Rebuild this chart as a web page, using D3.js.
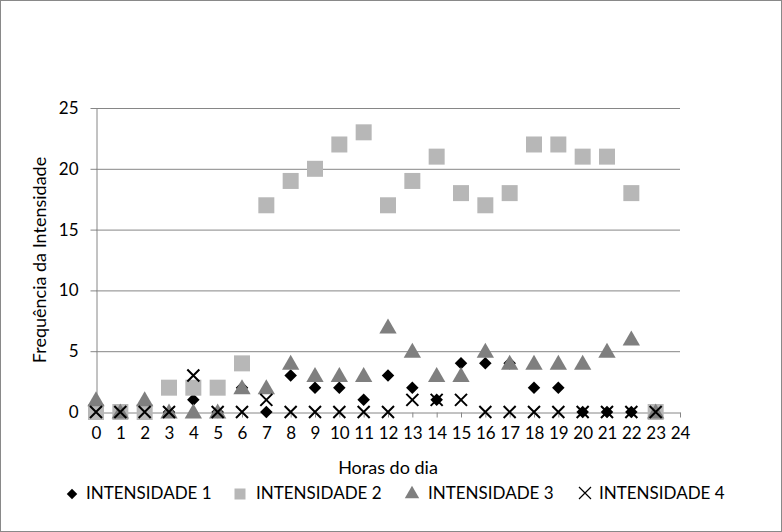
<!DOCTYPE html>
<html>
<head>
<meta charset="utf-8">
<script src="https://cdn.jsdelivr.net/npm/d3@7"></script>
<style>
body{margin:0;background:#fff;}
svg{display:block;font-family:Lato,"Open Sans",sans-serif;}
</style>
</head>
<body>
<svg id="svg1" width="782" height="532"></svg>
<script>
// horas 0..23
var hours = d3.range(0, 24);
var int1 = [0,0,0,0,1,0,2,0,3,2,2,1,3,2,1,4,4,4,2,2,0,0,0,0];
var int2 = [0,0,0,2,2,2,4,17,19,20,22,23,17,19,21,18,17,18,22,22,21,21,18,0];
var int3 = [1,0,1,0,0,0,2,2,4,3,3,3,7,5,3,3,5,4,4,4,4,5,6,0];
var int4 = [0,0,0,0,3,0,0,1,0,0,0,0,0,1,1,1,0,0,0,0,0,0,0,0];
var xTicks = d3.range(0, 25);
var yTicks = [0,5,10,15,20,25];
var names = ["INTENSIDADE 1","INTENSIDADE 2","INTENSIDADE 3","INTENSIDADE 4"];

var svg = d3.select("#svg1");
var grid = "#868686";

svg.append("rect").attr("x",0.5).attr("y",0.5).attr("width",781).attr("height",531)
    .attr("fill","#fff").attr("stroke","#898989");

var x = d3.scaleLinear().domain([0,24]).range([96,680]);
var y = d3.scaleLinear().domain([0,25]).range([412,108]);

// gridlines
svg.append("g").selectAll("line").data(yTicks.slice(1)).enter().append("line")
    .attr("x1",x(0)).attr("x2",x(24))
    .attr("y1",d => y(d)+0.5).attr("y2",d => y(d)+0.5)
    .attr("stroke",grid).attr("stroke-width",1);

var xAxis = svg.append("g").attr("transform","translate(0,"+(y(0)+0.5)+")")
    .call(d3.axisBottom(x).tickValues(xTicks).tickSize(5).tickSizeOuter(0).tickFormat(d3.format("d")));
var yAxis = svg.append("g").attr("transform","translate("+(x(0)+0.5)+",0)")
    .call(d3.axisLeft(y).tickValues(yTicks).tickSize(6).tickSizeOuter(0));
[xAxis,yAxis].forEach(function(a){
    a.select(".domain").attr("stroke",grid);
    a.selectAll(".tick line").attr("stroke",grid);
    a.selectAll(".tick text").attr("fill","#000").attr("font-size",17).attr("font-family","Lato,sans-serif");
});
xAxis.selectAll(".tick text").attr("y",21).attr("dy","0.35em");
yAxis.selectAll(".tick text").attr("x",-18);

svg.append("text").attr("x",388).attr("y",474).attr("text-anchor","middle")
    .attr("font-size",18).text("Horas do dia");
svg.append("text").attr("transform","translate(46,260) rotate(-90)").attr("text-anchor","middle")
    .attr("font-size",18).text("Frequência da Intensidade");

var sym = {
    diamond: d3.symbol().type(d3.symbolDiamond2).size(100),
    square: d3.symbol().type(d3.symbolSquare).size(256),
    triangle: d3.symbol().type(d3.symbolTriangle).size(130)
};

function drawSeries(data, kind){
    var g = svg.append("g");
    data.forEach(function(v, i){
        var cx = x(hours[i]), cy = y(v);
        if(kind === "cross"){
            g.append("path").attr("d","M-6,-6L6,6M6,-6L-6,6")
                .attr("transform","translate("+cx+","+cy+")")
                .attr("stroke","#000").attr("stroke-width",2).attr("fill","none");
        }else{
            var fill = kind === "diamond" ? "#000" : (kind === "square" ? "#b7b7b7" : "#7f7f7f");
            var dy = kind === "triangle" ? 1.5 : 0;
            g.append("path").attr("d",sym[kind]())
                .attr("transform","translate("+cx+","+(cy+dy)+")")
                .attr("fill",fill);
        }
    });
}
drawSeries(int1,"diamond");
drawSeries(int2,"square");
drawSeries(int3,"triangle");
drawSeries(int4,"cross");

// legend
var legend = [
    {kind:"diamond", fill:"#000", mx:72, tx:86},
    {kind:"square", fill:"#b7b7b7", mx:240, tx:256},
    {kind:"triangle", fill:"#7f7f7f", mx:412, tx:428},
    {kind:"cross", fill:"#000", mx:585, tx:599}
];
var ly = 493;
legend.forEach(function(l, i){
    if(l.kind === "cross"){
        svg.append("path").attr("d","M-6,-6L6,6M6,-6L-6,6")
            .attr("transform","translate("+l.mx+","+ly+")")
            .attr("stroke","#000").attr("stroke-width",1.2).attr("fill","none");
    }else{
        var s = l.kind === "diamond" ? d3.symbol().type(d3.symbolDiamond2).size(70)
              : l.kind === "square" ? d3.symbol().type(d3.symbolSquare).size(121)
              : d3.symbol().type(d3.symbolTriangle).size(90);
        svg.append("path").attr("d",s()).attr("transform","translate("+l.mx+","+(ly+1)+")").attr("fill",l.fill);
    }
    svg.append("text").attr("x",l.tx).attr("y",ly+6).attr("font-size",17).text(names[i]);
});
</script>
</body>
</html>
